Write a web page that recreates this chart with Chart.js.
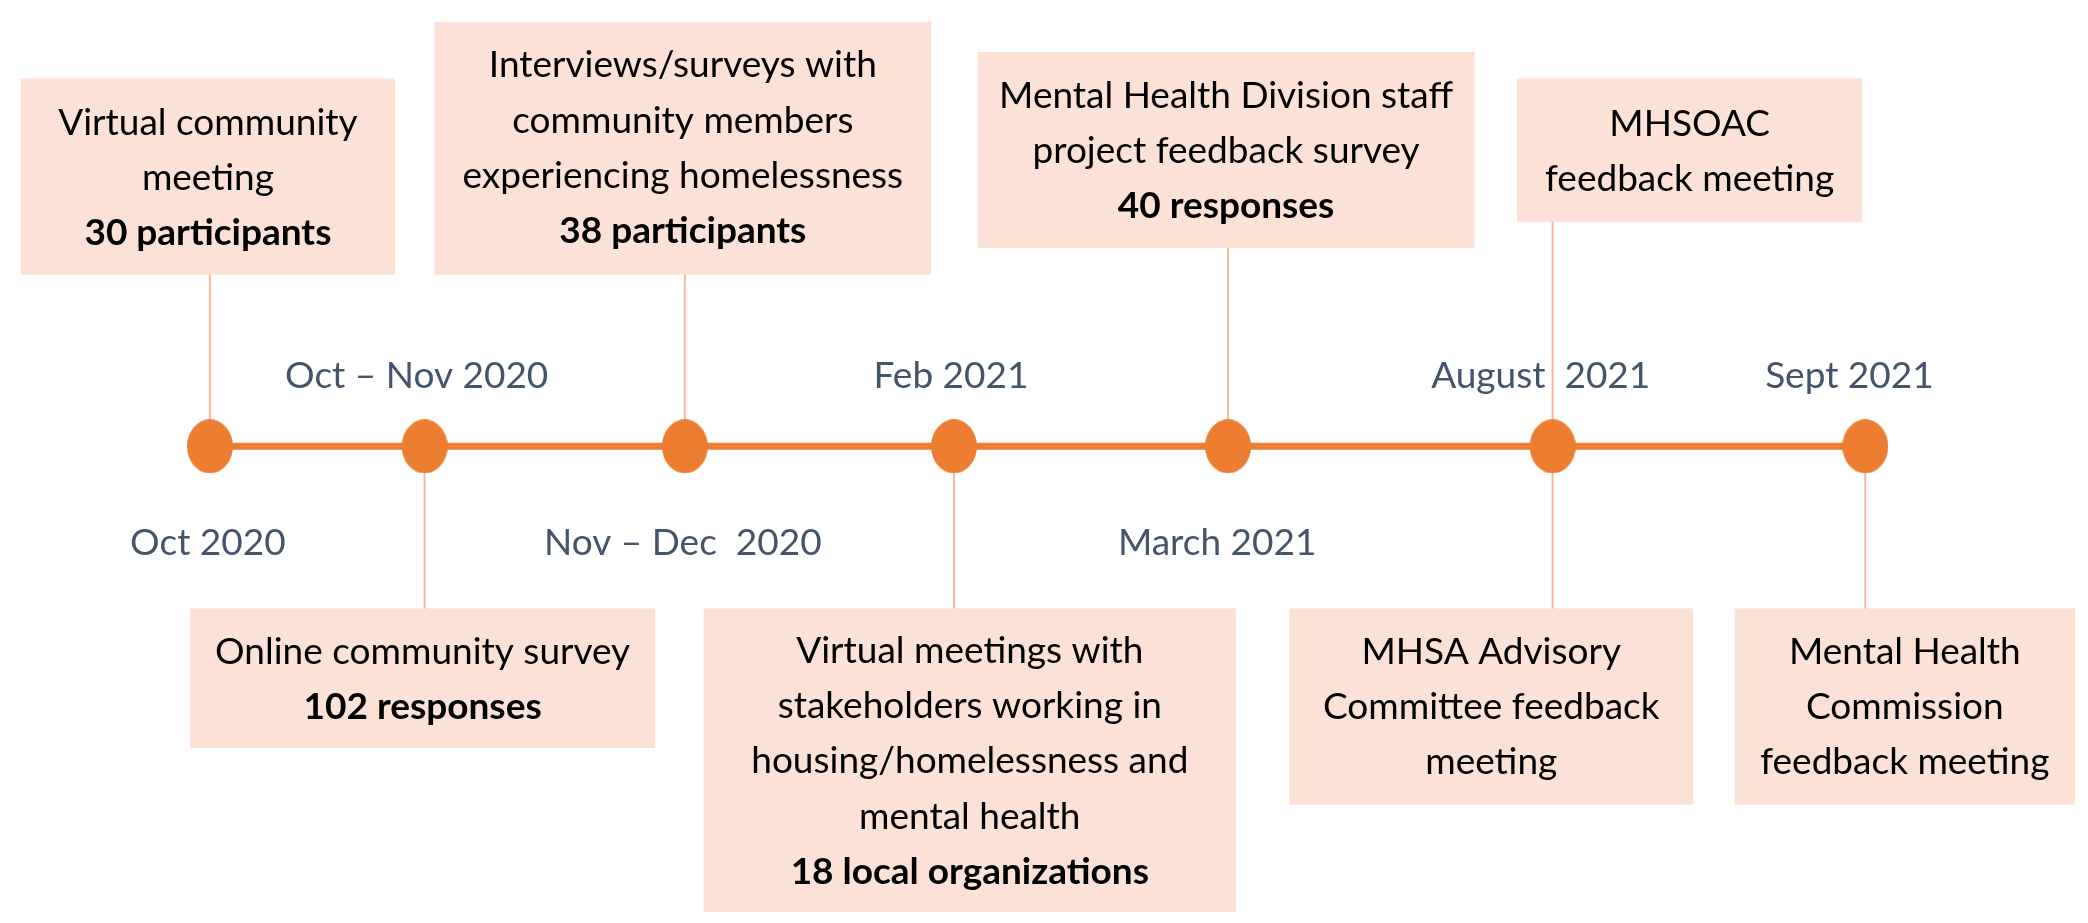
<!DOCTYPE html>
<html lang="en">
<head>
<meta charset="UTF-8">
<title>Community engagement timeline</title>
<script src="https://cdn.jsdelivr.net/npm/chart.js"></script>
<style>
  html, body { margin: 0; padding: 0; background: #ffffff; }
  #wrap { width: 2088px; height: 923px; position: relative; }
</style>
</head>
<body>
<div id="wrap"><canvas id="timeline"></canvas></div>
<script>
// milestones on the timeline
const milestones = ['Oct 2020', 'Oct \u2013 Nov 2020', 'Nov \u2013 Dec  2020', 'Feb 2021', 'March 2021', 'August  2021', 'Sept 2021'];

// activities, each tied to a milestone
const activityMilestone = [0, 1, 2, 3, 4, 5, 5, 6];
const activityText = [
    ['Virtual community', 'meeting'],
    ['Online community survey'],
    ['Interviews/surveys with', 'community members', 'experiencing homelessness'],
    ['Virtual meetings with', 'stakeholders working in', 'housing/homelessness and', 'mental health'],
    ['Mental Health Division staff', 'project feedback survey'],
    ['MHSOAC', 'feedback meeting'],
    ['MHSA Advisory', 'Committee feedback', 'meeting'],
    ['Mental Health', 'Commission', 'feedback meeting']
];
const activityCount = ['30 participants', '102 responses', '38 participants', '18 local organizations', '40 responses', '', '', ''];

// layout (axis units = canvas px)
const milestonePos = [201, 418, 681, 953, 1230, 1558, 1874];
const lineY = 446;
const labelAbove = [false, true, false, true, false, true, true];
const labelShift = [-2, -8, -2, -3, -11, -12, -16];
const boxRect = [
    [10, 388, 69, 270],
    [181, 651, 612, 755],
    [428, 930, 11, 270],
    [700, 1238, 612, 923],
    [977, 1479, 42, 243],
    [1522, 1871, 69, 216],
    [1292, 1700, 612, 813],
    [1742, 2086, 612, 813]
];
const firstBaseline = [127, 669, 68, 668, 99, 128, 669, 669];
const linePitch = 56.5;

const ORANGE = '#ED7D31';
const STEM = '#F5B99A';
const BOX_FILL = '#FBE1D6';
const DATE_COLOR = '#44546A';
const FONT = 'Lato, "Open Sans", sans-serif';

// elliptical marker like the original
const dot = document.createElement('canvas');
dot.width = 46; dot.height = 54;
const dctx = dot.getContext('2d');
dctx.fillStyle = ORANGE;
dctx.beginPath();
dctx.ellipse(23, 27, 23, 27, 0, 0, Math.PI * 2);
dctx.fill();

// stems from each box to its milestone, separated by nulls
const stemData = [];
activityMilestone.forEach((m, i) => {
    const r = boxRect[i];
    const edge = r[3] < lineY ? r[3] : r[2];
    stemData.push({x: milestonePos[m], y: edge});
    stemData.push({x: milestonePos[m], y: lineY});
    stemData.push({x: milestonePos[m], y: null});
});

const boxPlugin = {
    id: 'boxes',
    beforeDatasetsDraw(chart) {
        const {ctx, scales: {x, y}} = chart;
        ctx.save();
        activityText.forEach((lines, i) => {
            const r = boxRect[i];
            const left = x.getPixelForValue(r[0]), right = x.getPixelForValue(r[1]);
            const top = y.getPixelForValue(r[2]), bottom = y.getPixelForValue(r[3]);
            ctx.fillStyle = BOX_FILL;
            ctx.fillRect(left, top, right - left, bottom - top);

            const cx = (left + right) / 2;
            const all = activityCount[i] ? lines.concat([activityCount[i]]) : lines;
            ctx.fillStyle = '#000000';
            ctx.textAlign = 'center';
            ctx.textBaseline = 'alphabetic';
            all.forEach((t, k) => {
                const bold = activityCount[i] && k === all.length - 1;
                ctx.font = (bold ? 'bold ' : '') + '37px ' + FONT;
                ctx.fillText(t, cx, y.getPixelForValue(firstBaseline[i] + k * linePitch));
            });
        });
        ctx.restore();
    },
    afterDatasetsDraw(chart) {
        const {ctx, scales: {x, y}} = chart;
        ctx.save();
        ctx.fillStyle = DATE_COLOR;
        ctx.font = '37px ' + FONT;
        ctx.textAlign = 'center';
        ctx.textBaseline = 'alphabetic';
        milestones.forEach((m, i) => {
            const ly = labelAbove[i] ? 386 : 557;
            ctx.fillText(m, x.getPixelForValue(milestonePos[i] + labelShift[i]), y.getPixelForValue(ly));
        });
        ctx.restore();
    }
};

new Chart(document.getElementById('timeline'), {
    type: 'scatter',
    data: {
        datasets: [{
            label: 'Timeline',
            data: milestonePos.map(p => ({x: p, y: lineY})),
            showLine: true,
            borderColor: ORANGE,
            borderWidth: 7,
            pointStyle: dot,
            backgroundColor: ORANGE,
            order: 0
        }, {
            label: 'Stems',
            data: stemData,
            showLine: true,
            spanGaps: false,
            borderColor: STEM,
            borderWidth: 2,
            pointRadius: 0,
            order: 1
        }]
    },
    options: {
        responsive: true,
        maintainAspectRatio: false,
        animation: false,
        layout: { padding: 0 },
        scales: {
            x: { type: 'linear', min: 0, max: 2088, display: false },
            y: { min: 0, max: 923, reverse: true, display: false }
        },
        plugins: {
            legend: { display: false },
            tooltip: { enabled: false }
        }
    },
    plugins: [boxPlugin]
});
</script>
</body>
</html>
